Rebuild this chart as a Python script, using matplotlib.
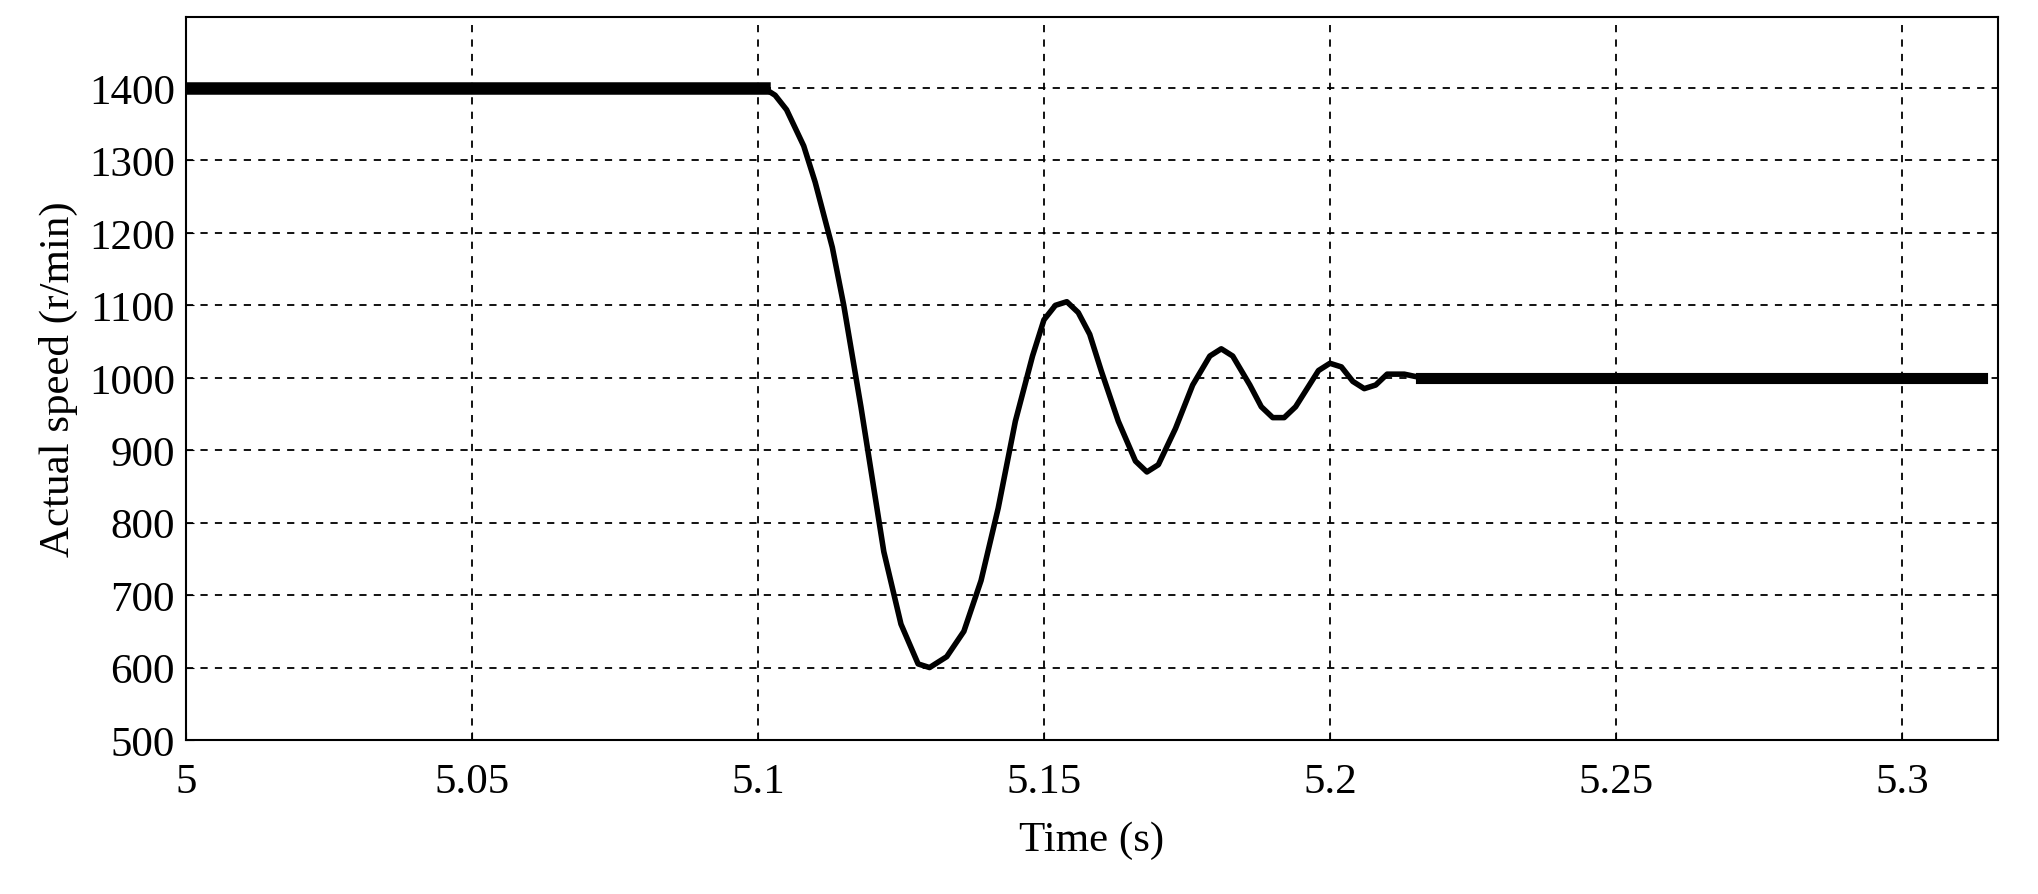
import matplotlib
matplotlib.use("Agg")
import matplotlib.pyplot as plt

time_s = [5.0, 5.101, 5.103, 5.105, 5.108, 5.11, 5.113, 5.115, 5.118, 5.12, 5.122, 5.125,
          5.128, 5.13, 5.133, 5.136, 5.139, 5.142, 5.145, 5.148, 5.15, 5.152, 5.154, 5.156,
          5.158, 5.16, 5.163, 5.166, 5.168, 5.17, 5.173, 5.176, 5.179, 5.181, 5.183, 5.186,
          5.188, 5.19, 5.192, 5.194, 5.196, 5.198, 5.2, 5.202, 5.204, 5.206, 5.208, 5.21,
          5.213, 5.216, 5.314]
speed = [1400, 1400, 1390, 1370, 1320, 1270, 1180, 1100, 960, 860, 760, 660,
         605, 600, 615, 650, 720, 820, 940, 1030, 1080, 1100, 1105, 1090,
         1060, 1010, 940, 885, 870, 880, 930, 990, 1030, 1040, 1030, 990,
         960, 945, 945, 960, 985, 1010, 1020, 1015, 995, 985, 990, 1005,
         1005, 1000, 1000]
x_ticks = [5, 5.05, 5.1, 5.15, 5.2, 5.25, 5.3]
x_labels = ["5", "5.05", "5.1", "5.15", "5.2", "5.25", "5.3"]
y_ticks = [500, 600, 700, 800, 900, 1000, 1100, 1200, 1300, 1400]

plt.rcParams['font.family'] = ['Liberation Serif', 'DejaVu Serif']
fig = plt.figure(figsize=(20.38, 8.95), dpi=100)
ax = fig.add_axes([186/2038, 1-741/895, (1998-186)/2038, (741-18)/895])
ax.plot(time_s, speed, color='black', lw=4, solid_joinstyle='round')
ax.plot(time_s[:2], speed[:2], color='black', lw=9)
ax.plot(time_s[-2:], speed[-2:], color='black', lw=8)
ax.set_xlim(5.0, 5.3168)
ax.set_ylim(500, 1498)
ax.set_xticks(x_ticks)
ax.set_xticklabels(x_labels)
ax.set_yticks(y_ticks)
ax.grid(True, color='black', linestyle=(0, (4, 4)), lw=1.3)
ax.tick_params(labelsize=31, direction='in', length=6, pad=8)
ax.tick_params(axis='x', pad=16)
for s in ax.spines.values():
    s.set_linewidth(1.5)
ax.set_xlabel("Time (s)", fontsize=31, labelpad=14)
ax.set_ylabel("Actual speed (r/min)", fontsize=31, labelpad=8)
fig.savefig("out.png", dpi=100)
